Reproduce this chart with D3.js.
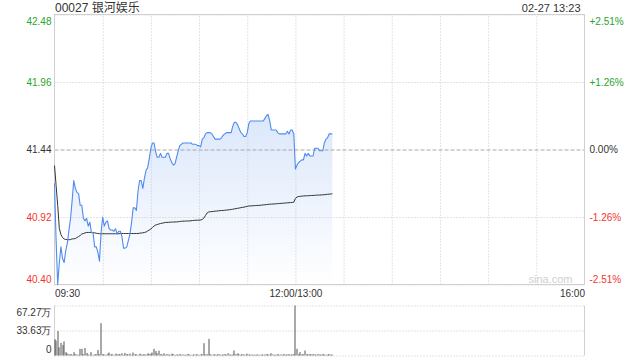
<!DOCTYPE html>
<html>
<head>
<meta charset="utf-8">
<script src="https://cdn.jsdelivr.net/npm/d3@7"></script>
<style>
  body { margin: 0; background: #fff; }
  svg { display: block; font-family: "Liberation Sans", Arial, "Noto Sans CJK SC", sans-serif; }
</style>
</head>
<body>
<div id="chart"></div>
<script>
const title = "00027 银河娱乐";
const stamp = "02-27 13:23";

const priceTicks = [42.48, 41.96, 41.44, 40.92, 40.40];
const pctTicks = ["+2.51%", "+1.26%", "0.00%", "-1.26%", "-2.51%"];
const volTicks = [67.27, 33.63, 0]; // 万
const timeTicks = [0, 150, 330];
const timeTickLabels = ["09:30", "12:00/13:00", "16:00"];

// one value per minute, 09:30 .. 12:00, 13:01 .. 13:23
const price = [
  41.18, 40.74, 40.40, 40.57, 40.69, 40.60, 40.57, 40.66, 40.72, 40.82,
  40.91, 41.05, 41.20, 41.14, 41.11, 41.10, 41.01, 41.01, 40.91, 40.89,
  40.91, 40.85, 40.88, 40.80, 40.80, 40.69, 40.69, 40.65, 40.58, 40.80,
  40.92, 40.85, 40.88, 40.89, 40.83, 40.82, 40.82, 40.81, 40.83, 40.79,
  40.81, 40.81, 40.77, 40.68, 40.68, 40.69, 40.74, 40.79, 40.88, 40.99,
  40.99, 40.97, 41.12, 41.20, 41.20, 41.14, 41.22, 41.28, 41.30, 41.37,
  41.45, 41.49, 41.49, 41.42, 41.38, 41.38, 41.41, 41.38, 41.38, 41.38,
  41.41, 41.41, 41.37, 41.34, 41.32, 41.33, 41.38, 41.43, 41.47, 41.48,
  41.49, 41.49, 41.49, 41.49, 41.49, 41.49, 41.48, 41.48, 41.48, 41.47,
  41.47, 41.46, 41.52, 41.53, 41.56, 41.57, 41.57, 41.57, 41.56, 41.54,
  41.52, 41.52, 41.52, 41.52, 41.53, 41.55, 41.56, 41.57, 41.57, 41.57,
  41.57, 41.62, 41.65, 41.65, 41.63, 41.60, 41.57, 41.56, 41.54, 41.54,
  41.57, 41.64, 41.66, 41.66, 41.66, 41.66, 41.66, 41.66, 41.66, 41.66,
  41.66, 41.68, 41.70, 41.71, 41.66, 41.59, 41.59, 41.59, 41.59, 41.57,
  41.56, 41.56, 41.56, 41.56, 41.56, 41.58, 41.56, 41.59, 41.59, 41.56,
  41.29, 41.32, 41.34, 41.35, 41.36, 41.36, 41.41, 41.39, 41.41, 41.39,
  41.39, 41.39, 41.45, 41.45, 41.45, 41.43, 41.43, 41.43, 41.49, 41.52,
  41.53, 41.56, 41.56, 41.56
];

const avgPrice = [
  41.317, 41.163, 41.009, 40.831, 40.785, 40.762, 40.751, 40.747, 40.747, 40.744,
  40.747, 40.751, 40.752, 40.754, 40.762, 40.770, 40.777, 40.789, 40.793, 40.797,
  40.801, 40.801, 40.801, 40.801, 40.801, 40.798, 40.795, 40.793, 40.791, 40.791,
  40.791, 40.791, 40.791, 40.791, 40.791, 40.791, 40.791, 40.791, 40.791, 40.791,
  40.791, 40.793, 40.793, 40.793, 40.793, 40.793, 40.793, 40.793, 40.793, 40.793,
  40.793, 40.793, 40.793, 40.795, 40.797, 40.798, 40.801, 40.804, 40.812, 40.820,
  40.828, 40.839, 40.851, 40.858, 40.862, 40.866, 40.870, 40.872, 40.875, 40.878,
  40.878, 40.879, 40.880, 40.881, 40.881, 40.882, 40.882, 40.884, 40.885, 40.887,
  40.888, 40.888, 40.889, 40.889, 40.890, 40.891, 40.893, 40.894, 40.895, 40.895,
  40.896, 40.897, 40.901, 40.912, 40.932, 40.951, 40.959, 40.960, 40.962, 40.963,
  40.965, 40.966, 40.967, 40.969, 40.970, 40.970, 40.972, 40.973, 40.975, 40.976,
  40.978, 40.980, 40.982, 40.985, 40.987, 40.989, 40.992, 40.994, 40.996, 40.999,
  41.002, 41.005, 41.005, 41.006, 41.007, 41.008, 41.009, 41.009, 41.010, 41.012,
  41.013, 41.014, 41.016, 41.017, 41.019, 41.019, 41.020, 41.021, 41.022, 41.023,
  41.024, 41.025, 41.026, 41.027, 41.028, 41.029, 41.030, 41.031, 41.032, 41.034,
  41.063, 41.074, 41.078, 41.079, 41.081, 41.082, 41.083, 41.083, 41.084, 41.085,
  41.086, 41.086, 41.087, 41.088, 41.089, 41.089, 41.090, 41.091, 41.092, 41.093,
  41.095, 41.096, 41.097, 41.099
];

// volume in 万 shares
const volume = [
  22, 20, 33, 11, 17, 14, 19, 4.5, 3, 2,
  2, 1, 4.5, 2, 1.5, 1, 9, 9, 2, 10,
  3.5, 1.5, 1, 4.5, 1, 1.5, 2, 7.5, 2, 43.5,
  2, 1.5, 1, 2.5, 4, 1.5, 2, 1, 2.5, 1.5,
  2, 1.5, 3, 1, 3.5, 2, 1.5, 2.5, 1, 4,
  1.5, 2, 1, 2.5, 1.5, 1, 2, 1.5, 3, 2,
  2.5, 4, 9, 6, 3, 6.5, 2, 1.5, 3, 1,
  2, 1.5, 1, 2.5, 2, 1, 1.5, 1, 2, 1,
  1.5, 1, 1, 2, 1.5, 1, 1, 1.5, 1, 2,
  1, 1.5, 2, 16.6, 1.5, 2, 22.4, 2, 1, 1.5,
  1.5, 1, 2, 1.5, 1, 1.5, 2, 1, 3, 1.5,
  1, 1.5, 6.7, 2, 3, 1.5, 1, 2, 1.5, 1,
  2.5, 1.5, 1, 1.5, 1, 1, 1.5, 1, 1, 1.5,
  1, 1.5, 2, 1.5, 1, 3, 1.5, 1, 1, 2,
  1, 1.5, 1, 2, 1, 1.5, 2, 1, 1.5, 2,
  67.27, 9, 2, 4.5, 1.5, 2, 6.7, 2, 1.5, 2,
  1.5, 2, 1.5, 1, 2, 1.5, 1, 2, 1.5, 1,
  1.5, 2, 1, 1.5
];

const width = 640;
const height = 360;
const plot = { left: 54.5, right: 584.5, top: 14.5, bottom: 284.5 };
const volPanel = { top: 305.5, bottom: 355.5 };

const upColor = "#2aa52a";
const downColor = "#f2352c";
const textColor = "#333";
const lineColor = "#4f8bef";

const labelColor = (i) => (i < 2 ? upColor : i > 2 ? downColor : textColor);

const svg = d3
  .select("#chart")
  .append("svg")
  .attr("width", width)
  .attr("height", height)
  .style("font-size", "11px");

const x = d3.scaleLinear().domain([0, 330]).range([plot.left, plot.right]);
const y = d3
  .scaleLinear()
  .domain([priceTicks[4], priceTicks[0]])
  .range([plot.bottom, plot.top]);
const yPct = d3
  .scalePoint()
  .domain(pctTicks)
  .range([plot.top, plot.bottom]);
const yVol = d3
  .scaleLinear()
  .domain([0, volTicks[0]])
  .range([volPanel.bottom, volPanel.top]);

// area gradient
const grad = svg
  .append("defs")
  .append("linearGradient")
  .attr("id", "fade")
  .attr("gradientUnits", "userSpaceOnUse")
  .attr("x1", 0)
  .attr("x2", 0)
  .attr("y1", y(d3.max(price)))
  .attr("y2", plot.bottom);
grad.append("stop").attr("offset", 0).attr("stop-color", "#dbe7fb");
grad.append("stop").attr("offset", 1).attr("stop-color", "#ffffff");

svg
  .append("path")
  .datum(price)
  .attr("fill", "url(#fade)")
  .attr(
    "d",
    d3
      .area()
      .x((d, i) => x(i))
      .y0(y(priceTicks[4]))
      .y1((d) => y(d))
  );

// vertical grid, every half hour
svg
  .append("g")
  .attr("transform", `translate(0, ${plot.bottom})`)
  .call(
    d3
      .axisBottom(x)
      .tickValues(d3.range(30, 330, 30))
      .tickSize(-(plot.bottom - plot.top))
      .tickFormat("")
  )
  .call((g) => g.select(".domain").remove())
  .call((g) =>
    g
      .selectAll(".tick line")
      .attr("stroke", "#c8c8c8")
      .attr("stroke-dasharray", "1,2")
  );

// price axis with horizontal grid
svg
  .append("g")
  .attr("transform", `translate(${plot.left}, 0)`)
  .call(
    d3
      .axisLeft(y)
      .tickValues(priceTicks)
      .tickSize(-(plot.right - plot.left))
      .tickPadding(3)
      .tickFormat(d3.format(".2f"))
  )
  .call((g) => g.select(".domain").remove())
  .call((g) =>
    g
      .selectAll(".tick line")
      .attr("stroke", (d, i) => (i === 2 ? "#a8a8a8" : "#c8c8c8"))
      .attr("stroke-dasharray", (d, i) => (i === 2 ? "4,2" : "1,2"))
  )
  .call((g) =>
    g
      .selectAll(".tick text")
      .attr("font-family", null)
      .attr("font-size", null)
      .attr("fill", (d, i) => labelColor(i))
      .attr("dy", (d, i) => (i === 0 ? "0.95em" : i === 4 ? "-0.2em" : "0.32em"))
  );

// percent axis
svg
  .append("g")
  .attr("transform", `translate(${plot.right}, 0)`)
  .call(d3.axisRight(yPct).tickSize(0).tickPadding(5))
  .call((g) => g.select(".domain").remove())
  .call((g) =>
    g
      .selectAll(".tick text")
      .attr("font-family", null)
      .attr("font-size", null)
      .attr("fill", (d, i) => labelColor(i))
      .attr("dy", (d, i) => (i === 0 ? "0.95em" : i === 4 ? "-0.2em" : "0.32em"))
  );

// plot frame
svg
  .append("rect")
  .attr("x", plot.left)
  .attr("y", plot.top)
  .attr("width", plot.right - plot.left)
  .attr("height", plot.bottom - plot.top)
  .attr("fill", "none")
  .attr("stroke", "#d0d0d0");

// average price line
svg
  .append("path")
  .datum(avgPrice)
  .attr("fill", "none")
  .attr("stroke", "#333")
  .attr("stroke-width", 1)
  .attr(
    "d",
    d3
      .line()
      .x((d, i) => x(i))
      .y((d) => y(d))
  );

// price line
svg
  .append("path")
  .datum(price)
  .attr("fill", "none")
  .attr("stroke", lineColor)
  .attr("stroke-width", 1.1)
  .attr("stroke-linejoin", "round")
  .attr(
    "d",
    d3
      .line()
      .x((d, i) => x(i))
      .y((d) => y(d))
  );

// watermark
svg
  .append("text")
  .attr("x", plot.right - 12)
  .attr("y", plot.bottom - 1.5)
  .attr("text-anchor", "end")
  .attr("fill", "#d0d0d0")
  .text("sina.com");

// time labels
svg
  .append("g")
  .attr("transform", `translate(0, ${plot.bottom})`)
  .call(
    d3
      .axisBottom(x)
      .tickValues(timeTicks)
      .tickSize(0)
      .tickPadding(5)
      .tickFormat((d, i) => timeTickLabels[i])
  )
  .call((g) => g.select(".domain").remove())
  .call((g) =>
    g
      .selectAll(".tick text")
      .attr("font-family", null)
      .attr("font-size", null)
      .attr("fill", textColor)
      .attr("text-anchor", (d, i) => (i === 0 ? "start" : i === 2 ? "end" : "middle"))
  );

// volume panel
svg
  .append("g")
  .attr("transform", `translate(${plot.left}, 0)`)
  .call(
    d3
      .axisLeft(yVol)
      .tickValues(volTicks)
      .tickSize(-(plot.right - plot.left))
      .tickPadding(3)
      .tickFormat((d) => (d === 0 ? "0" : d3.format(".2f")(d) + "万"))
  )
  .call((g) => g.select(".domain").remove())
  .call((g) =>
    g
      .selectAll(".tick line")
      .attr("stroke", "#c8c8c8")
      .attr("stroke-dasharray", "1,2")
  )
  .call((g) =>
    g
      .selectAll(".tick text")
      .attr("font-family", null)
      .attr("font-size", null)
      .attr("fill", textColor)
      .attr("dy", (d, i) => (i === 0 ? "0.95em" : i === 2 ? "-0.3em" : "0.32em"))
  );

svg
  .append("g")
  .attr("stroke", "#d0d0d0")
  .selectAll("line")
  .data([plot.left, plot.right])
  .join("line")
  .attr("x1", (d) => d)
  .attr("x2", (d) => d)
  .attr("y1", volPanel.top)
  .attr("y2", volPanel.bottom);

svg
  .append("g")
  .attr("fill", "#555")
  .selectAll("rect")
  .data(volume)
  .join("rect")
  .attr("x", (d, i) => Math.round(x(i)) - 0.5)
  .attr("y", (d) => yVol(d))
  .attr("width", 1)
  .attr("height", (d) => yVol(0) - yVol(d));

// header
svg
  .append("text")
  .attr("x", plot.left + 0.5)
  .attr("y", 11.5)
  .attr("fill", textColor)
  .style("font-size", "12px")
  .text(title);

svg
  .append("text")
  .attr("x", plot.right - 4)
  .attr("y", 11.5)
  .attr("text-anchor", "end")
  .attr("fill", textColor)
  .text(stamp);
</script>
</body>
</html>
